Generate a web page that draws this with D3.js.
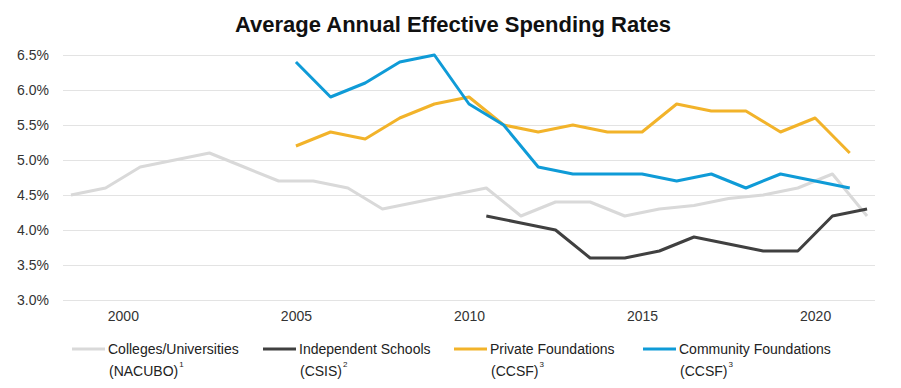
<!DOCTYPE html>
<html>
<head>
<meta charset="utf-8">
<script src="https://cdn.jsdelivr.net/npm/d3@7"></script>
<style>
  body { margin: 0; background: #fff; }
  svg { font-family: "Liberation Sans", Arial, sans-serif; }
</style>
</head>
<body>
<div id="chart"></div>
<script>
// Colleges/Universities (NACUBO) - fiscal years, plotted mid-year
var nacuboYears = [1998.5, 1999.5, 2000.5, 2001.5, 2002.5, 2003.5, 2004.5, 2005.5, 2006.5, 2007.5, 2008.5, 2009.5,
                   2010.5, 2011.5, 2012.5, 2013.5, 2014.5, 2015.5, 2016.5, 2017.5, 2018.5, 2019.5, 2020.5, 2021.5];
var nacuboRates = [4.5, 4.6, 4.9, 5.0, 5.1, 4.9, 4.7, 4.7, 4.6, 4.3, 4.4, 4.5,
                   4.6, 4.2, 4.4, 4.4, 4.2, 4.3, 4.35, 4.45, 4.5, 4.6, 4.8, 4.2];

// Independent Schools (CSIS)
var csisYears = [2010.5, 2011.5, 2012.5, 2013.5, 2014.5, 2015.5, 2016.5, 2017.5, 2018.5, 2019.5, 2020.5, 2021.5];
var csisRates = [4.2, 4.1, 4.0, 3.6, 3.6, 3.7, 3.9, 3.8, 3.7, 3.7, 4.2, 4.3];

// Private / Community Foundations (CCSF)
var ccsfYears = [2005, 2006, 2007, 2008, 2009, 2010, 2011, 2012, 2013, 2014, 2015, 2016, 2017, 2018, 2019, 2020, 2021];
var privateRates = [5.2, 5.4, 5.3, 5.6, 5.8, 5.9, 5.5, 5.4, 5.5, 5.4, 5.4, 5.8, 5.7, 5.7, 5.4, 5.6, 5.1];
var communityRates = [6.4, 5.9, 6.1, 6.4, 6.5, 5.8, 5.5, 4.9, 4.8, 4.8, 4.8, 4.7, 4.8, 4.6, 4.8, 4.7, 4.6];

var yTicks = [3.0, 3.5, 4.0, 4.5, 5.0, 5.5, 6.0, 6.5];
var xTicks = [2000, 2005, 2010, 2015, 2020];

var seriesNames = ["Colleges/Universities", "Independent Schools", "Private Foundations", "Community Foundations"];
var seriesSources = ["(NACUBO)", "(CSIS)", "(CCSF)", "(CCSF)"];
var seriesNotes = ["1", "2", "3", "3"];

function init() {
    var w = 901, h = 388;
    var colors = ["#d9d9d9", "#404040", "#f2b32a", "#0f9bd7"];

    var svg = d3.select("#chart").append("svg")
                .attr("width", w)
                .attr("height", h);

    var x = d3.scaleLinear().domain([1998.27, 2021.73]).range([63, 875]);
    var y = d3.scaleLinear().domain([3.0, 6.5]).range([300, 55]);

    // title
    svg.append("text")
       .attr("x", 453)
       .attr("y", 32)
       .attr("text-anchor", "middle")
       .style("font-size", "22px")
       .style("font-weight", "bold")
       .style("fill", "#111")
       .text("Average Annual Effective Spending Rates");

    // gridlines + y labels
    var yAxis = d3.axisLeft(y)
                  .tickValues(yTicks)
                  .tickSize(-(875 - 63))
                  .tickPadding(14)
                  .tickFormat(d => d.toFixed(1) + "%");
    var gy = svg.append("g").attr("transform", "translate(63,0)").call(yAxis);
    gy.select(".domain").remove();
    gy.selectAll(".tick line").attr("stroke", "#e3e3e3").attr("stroke-width", 1.2);
    gy.selectAll(".tick text")
      .style("font-size", "14px")
      .style("fill", "#333")
      .style("font-family", "'Liberation Sans', Arial, sans-serif");

    // x labels
    var xAxis = d3.axisBottom(x)
                  .tickValues(xTicks)
                  .tickSize(0)
                  .tickPadding(11)
                  .tickFormat(d3.format("d"));
    var gx = svg.append("g").attr("transform", "translate(0,300)").call(xAxis);
    gx.select(".domain").remove();
    gx.selectAll(".tick text")
      .style("font-size", "14px")
      .style("fill", "#333")
      .style("font-family", "'Liberation Sans', Arial, sans-serif");

    var line = d3.line()
                 .x(d => x(d[0]))
                 .y(d => y(d[1]));

    var series = [
        d3.zip(nacuboYears, nacuboRates),
        d3.zip(csisYears, csisRates),
        d3.zip(ccsfYears, privateRates),
        d3.zip(ccsfYears, communityRates)
    ];

    svg.selectAll("path.series")
       .data(series)
       .enter()
       .append("path")
       .attr("class", "series")
       .attr("d", line)
       .attr("fill", "none")
       .attr("stroke", (d, i) => colors[i])
       .attr("stroke-width", 3)
       .attr("stroke-linejoin", "round");

    // legend
    var legendX = [72, 263, 454, 643];
    var legend = svg.selectAll("g.legend")
                    .data(seriesNames)
                    .enter()
                    .append("g")
                    .attr("class", "legend")
                    .attr("transform", (d, i) => "translate(" + legendX[i] + ",0)");

    legend.append("line")
          .attr("x1", 0).attr("x2", 33)
          .attr("y1", 349).attr("y2", 349)
          .attr("stroke", (d, i) => colors[i])
          .attr("stroke-width", 3);

    legend.append("text")
          .attr("x", 36)
          .attr("y", 354)
          .style("font-size", "14px")
          .style("fill", "#222")
          .text(d => d);

    var second = legend.append("text")
          .attr("x", 37)
          .attr("y", 376)
          .style("font-size", "14px")
          .style("fill", "#222");
    second.append("tspan").text((d, i) => seriesSources[i]);
    second.append("tspan")
          .attr("dy", -9)
          .attr("dx", 1)
          .style("font-size", "8px")
          .text((d, i) => seriesNotes[i]);
}

window.onload = init;
</script>
</body>
</html>
